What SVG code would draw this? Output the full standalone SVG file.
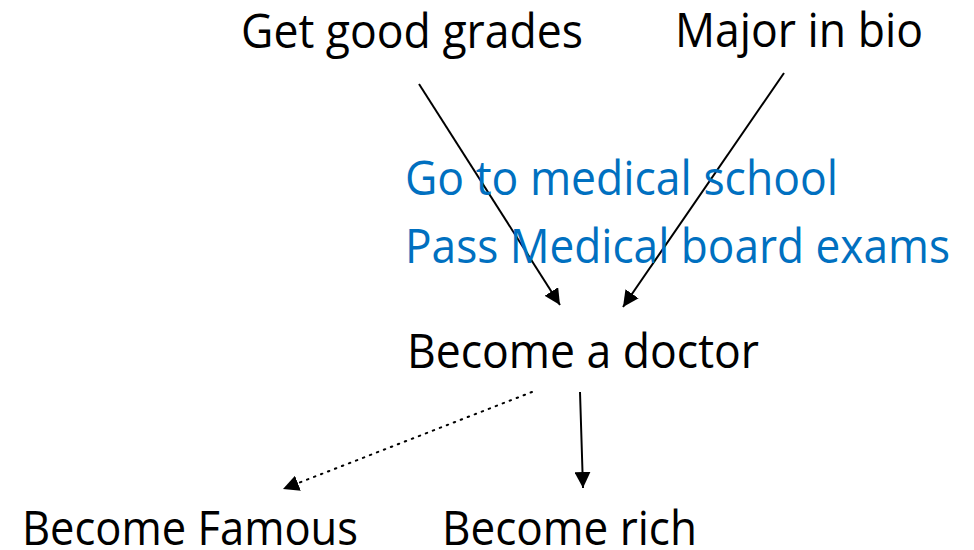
<svg xmlns="http://www.w3.org/2000/svg" width="974" height="550" viewBox="0 0 974 550">
<style>
text{font-family:"Open Sans","Noto Sans","Liberation Sans",sans-serif;font-size:47px;fill:#000}
.blue{fill:#0070C0}
.ln{stroke:#000;stroke-width:2;fill:none}
.dot{stroke:#000;stroke-width:2;stroke-dasharray:1.5 6;stroke-linecap:round;fill:none}
</style>
<defs>
<marker id="ah" viewBox="0 0 10 10" refX="10" refY="5" markerWidth="8" markerHeight="8" markerUnits="userSpaceOnUse" orient="auto"><path d="M0,0 L10,5 L0,10 z" fill="#000"/></marker>
<marker id="ahb" viewBox="0 0 10 10" refX="10" refY="5" markerWidth="16" markerHeight="16" markerUnits="userSpaceOnUse" orient="auto"><path d="M0,0 L10,5 L0,10 z" fill="#000"/></marker>
</defs>
<rect width="974" height="550" fill="#fff"/>
<g id="connectors">
<line class="ln" x1="419" y1="84" x2="560" y2="305" marker-end="url(#ahb)"/>
<line class="ln" x1="784" y1="73" x2="623" y2="307" marker-end="url(#ahb)"/>
<line class="dot" x1="532" y1="392" x2="283" y2="489" marker-end="url(#ahb)"/>
<line class="ln" x1="580" y1="392" x2="583" y2="488" marker-end="url(#ahb)"/>
</g>
<g id="grades"><text x="241" y="48" textLength="342" lengthAdjust="spacingAndGlyphs">Get good grades</text></g>
<g id="bio"><text x="675" y="47" textLength="248" lengthAdjust="spacingAndGlyphs">Major in bio</text></g>
<g id="medschool"><text class="blue" x="405" y="195" textLength="433" lengthAdjust="spacingAndGlyphs">Go to medical school</text></g>
<g id="boards"><text class="blue" x="405" y="263" textLength="545" lengthAdjust="spacingAndGlyphs">Pass Medical board exams</text></g>
<g id="doctor"><text x="407" y="368" textLength="352" lengthAdjust="spacingAndGlyphs">Become a doctor</text></g>
<g id="famous"><text x="22" y="545" textLength="336" lengthAdjust="spacingAndGlyphs">Become Famous</text></g>
<g id="rich"><text x="442" y="545" textLength="255" lengthAdjust="spacingAndGlyphs">Become rich</text></g>
</svg>
